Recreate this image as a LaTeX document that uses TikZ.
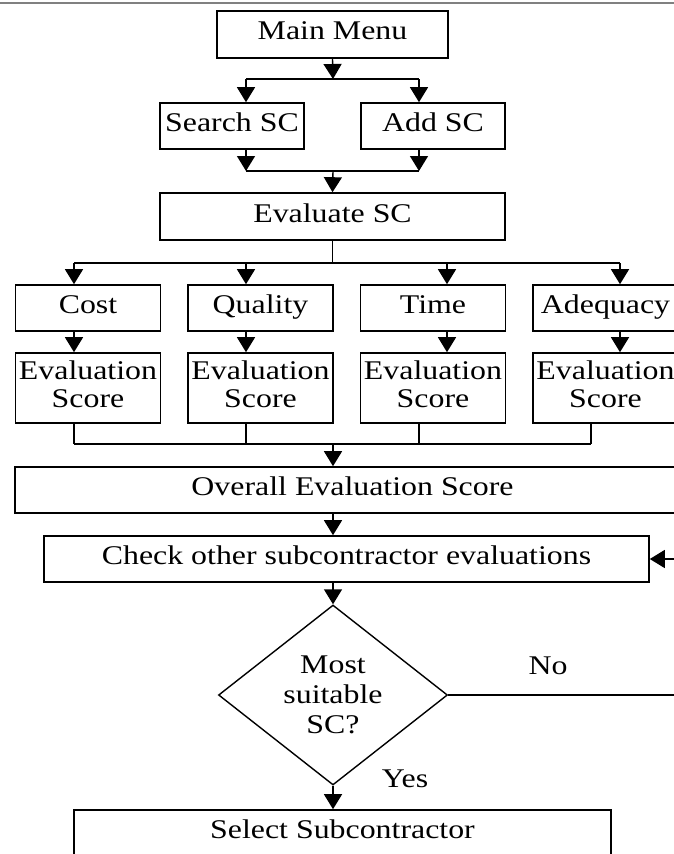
\documentclass[tikz,border=0pt]{standalone}
\usepackage{fontspec}
\setmainfont{Liberation Serif}[FakeStretch=1.18]
\usetikzlibrary{shapes.geometric,arrows.meta}
\tikzset{
  box/.style={draw=black,line width=1.6pt,rectangle,inner sep=0pt,text depth=7pt,align=center,font=\fontsize{27}{28}\selectfont},
  decision/.style={draw=black,line width=1.4pt,diamond,inner sep=0pt,aspect=1.27,align=center,font=\fontsize{27}{30}\selectfont},
  tag/.style={inner sep=0pt,font=\fontsize{27}{28}\selectfont},
  arrow/.style={line width=1.4pt,-{Triangle[length=15pt,width=18pt]}},
  line/.style={line width=1.4pt},
}
\begin{document}
\begin{tikzpicture}[x=1pt,y=-1pt]
\useasboundingbox (0,0) rectangle (674,854);
\clip (0,0) rectangle (674,854);
% grey rule along the top edge
\draw[gray,line width=1.5pt] (0,3) -- (674,3);
%% the boxes
\node[box,minimum width=231pt,minimum height=47pt] (menu) at (332.5,34.5) {Main Menu};
\node[box,minimum width=144pt,minimum height=46pt] (search) at (232,126) {Search SC};
\node[box,minimum width=144pt,minimum height=46pt] (add) at (433,126) {Add SC};
\node[box,minimum width=345pt,minimum height=47pt] (eval) at (332.5,216.5) {Evaluate SC};
\foreach \n/\x/\t in {cost/88/Cost,quality/260.5/Quality,time/433/Time,adeq/605.5/Adequacy}{
  \node[box,minimum width=145pt,minimum height=46pt] (\n) at (\x,308) {\t};
  \node[box,minimum width=145pt,minimum height=70pt] (\n-score) at (\x,388) {Evaluation\\Score};
}
\node[box,minimum width=675pt,minimum height=46pt] (overall) at (352.5,490) {Overall Evaluation Score};
\node[box,minimum width=605pt,minimum height=46pt] (check) at (346.5,559) {Check other subcontractor evaluations};
\node[decision,minimum width=229pt,minimum height=180pt] (dec) at (333,695) {Most\\suitable\\SC?};
\node[box,minimum width=537pt,minimum height=46pt] (select) at (342.5,833) {Select Subcontractor};
%% main menu to search / add
\coordinate (sp1) at (333,79);
\coordinate (sp1l) at (246,79);
\coordinate (sp1r) at (419,79);
\draw[arrow] (menu.south) -- (sp1);
\draw[line] (sp1l) -- (sp1r);
\draw[arrow] (sp1l) -- (sp1l |- search.north);
\draw[arrow] (sp1r) -- (sp1r |- add.north);
%% search / add to evaluate
\coordinate (mg1) at (333,171);
\coordinate (mg1l) at (246,171);
\coordinate (mg1r) at (419,171);
\draw[arrow] (search.south -| mg1l) -- (mg1l);
\draw[arrow] (add.south -| mg1r) -- (mg1r);
\draw[line] (mg1l) -- (mg1r);
\draw[arrow] (mg1) -- (eval.north);
%% the four criteria
\foreach \n/\a in {cost/74,quality/246,time/447,adeq/620}{
  \coordinate (\n-in) at (\a,263);
  \draw[arrow] (\n-in) -- (\n-in |- \n.north);
  \draw[arrow] (\n.south -| \n-in) -- (\n-in |- \n-score.north);
}
\draw[line] (eval.south) -- (eval.south |- cost-in);
\draw[line] (cost-in) -- (adeq-in);
\foreach \n/\b in {cost/74,quality/246,time/419,adeq/591}{
  \coordinate (\n-out) at (\b,444);
  \draw[line] (\n-score.south -| \n-out) -- (\n-out);
}
\draw[line] (cost-out) -- (adeq-out);
\coordinate (mg2) at (333,444);
\draw[arrow] (mg2) -- (mg2 |- overall.north);
\draw[arrow] (overall.south -| mg2) -- (check.north -| mg2);
\draw[arrow] (check.south -| dec.north) -- (dec.north);
%% yes / no
\draw[arrow] (dec.south) -- (dec.south |- select.north);
\node[tag] (yes) at (405,779) {Yes};
\coordinate (loop) at (695,600);
\draw[arrow] (dec.east) -- (dec.east -| loop) -- (check.east -| loop) -- (check.east);
\node[tag] (no) at (548,666) {No};
\end{tikzpicture}
\end{document}
